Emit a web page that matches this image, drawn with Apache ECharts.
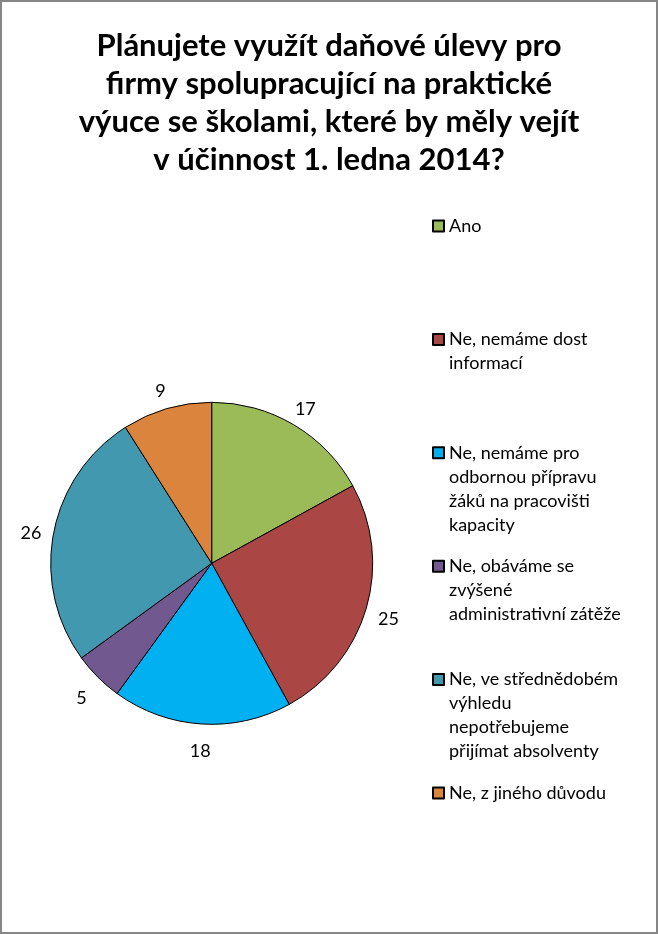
<!DOCTYPE html>
<html>
<head>
<meta charset="utf-8">
<script src="https://cdn.jsdelivr.net/npm/echarts@6/dist/echarts.min.js"></script>
<style>
  html, body { margin: 0; padding: 0; background: #fff; }
  #chart { width: 658px; height: 934px; }
</style>
</head>
<body>
<div id="chart"></div>
<script>
// categories + values
const categories = [
  "Ano",
  "Ne, nemáme dost informací",
  "Ne, nemáme pro odbornou přípravu žáků na pracovišti kapacity",
  "Ne, obáváme se zvýšené administrativní zátěže",
  "Ne, ve střednědobém výhledu nepotřebujeme přijímat absolventy",
  "Ne, z jiného důvodu"
];
const values = [17, 25, 18, 5, 26, 9];
// legend text wrapped the same way as the picture
const legendLines = [
  ["Ano"],
  ["Ne, nemáme dost", "informací"],
  ["Ne, nemáme pro", "odbornou přípravu", "žáků na pracovišti", "kapacity"],
  ["Ne, obáváme se", "zvýšené", "administrativní zátěže"],
  ["Ne, ve střednědobém", "výhledu", "nepotřebujeme", "přijímat absolventy"],
  ["Ne, z jiného důvodu"]
];
const colors = ["#9BBB59", "#AA4643", "#00B0F0", "#71588F", "#4198AF", "#DB843D"];
const titleText = "Plánujete využít daňové úlevy pro\nfirmy spolupracující na praktické\nvýuce se školami, které by měly vejít\nv účinnost 1. ledna 2014?";

const FONT = "Lato, 'Open Sans', sans-serif";
const LH = 24;
const MAXL = 4;

const chart = echarts.init(document.getElementById("chart"));

const pieData = categories.map((name, i) => ({
  name: name,
  value: values[i],
  itemStyle: { color: colors[i] }
}));

// pad every legend entry so the icon sits on the first line and all entries are same height
function legendText(name) {
  const lines = legendLines[categories.indexOf(name)];
  const before = new Array(MAXL - 1).fill("");
  const after = new Array(MAXL - lines.length).fill("");
  return before.concat(lines, after).join("\n");
}

const option = {
  backgroundColor: "#fff",
  animation: false,
  title: {
    text: titleText,
    left: "center",
    top: 27,
    padding: 0,
    textStyle: {
      fontFamily: FONT,
      fontSize: 31,
      fontWeight: "bold",
      color: "#000",
      lineHeight: 38
    }
  },
  legend: {
    orient: "vertical",
    left: 432,
    top: 226 - (MAXL - 1) * LH - LH / 2,
    padding: 0,
    itemGap: 113.4 - (2 * MAXL - 1) * LH,
    itemWidth: 11,
    itemHeight: 11,
    icon: "rect",
    selectedMode: false,
    data: categories,
    formatter: legendText,
    textStyle: {
      fontFamily: FONT,
      fontSize: 18,
      color: "#000",
      lineHeight: LH
    }
  },
  graphic: [
    {
      type: "rect",
      shape: { x: 1, y: 1, width: 656, height: 932 },
      style: { fill: "none", stroke: "#868686", lineWidth: 2 },
      silent: true
    }
  ],
  series: [
    {
      name: "main",
      type: "pie",
      center: [211.7, 563.3],
      radius: 161,
      startAngle: 90,
      clockwise: true,
      silent: true,
      itemStyle: { borderColor: "#000", borderWidth: 1 },
      label: { show: false },
      labelLine: { show: false },
      data: pieData
    },
    {
      // transparent ring only used to place the value labels just outside the pie
      name: "labels",
      type: "pie",
      center: [211.7, 568],
      radius: [170, 192],
      startAngle: 90,
      clockwise: true,
      silent: true,
      itemStyle: { color: "rgba(0,0,0,0)", borderWidth: 0 },
      label: {
        show: true,
        position: "inside",
        formatter: "{c}",
        fontFamily: FONT,
        fontSize: 18,
        color: "#000"
      },
      labelLine: { show: false },
      data: categories.map((name, i) => ({ name: name, value: values[i] }))
    }
  ]
};

chart.setOption(option);
</script>
</body>
</html>
